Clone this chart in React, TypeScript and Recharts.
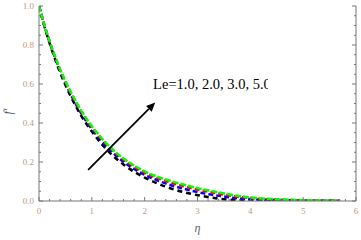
import { LineChart, Line, XAxis, YAxis, ReferenceLine, ReferenceDot, Label } from 'recharts'

const eta = [0, 0.1, 0.2, 0.3, 0.4, 0.5, 0.6, 0.7, 0.8, 0.9, 1.0, 1.2, 1.4, 1.6, 1.8, 2.0, 2.25, 2.5, 2.75, 3.0, 3.25, 3.5, 3.75, 4.0, 4.5, 5.0, 5.5, 5.7]
const le1 = [1.0, 0.898, 0.81, 0.731, 0.658, 0.595, 0.537, 0.485, 0.437, 0.395, 0.356, 0.288, 0.232, 0.187, 0.150, 0.120, 0.089, 0.064, 0.045, 0.030, 0.018, 0.009, 0.004, 0.002, 0.001, 0, 0, 0]
const le2 = [1.0, 0.901, 0.815, 0.737, 0.666, 0.604, 0.547, 0.496, 0.449, 0.407, 0.369, 0.302, 0.246, 0.201, 0.164, 0.134, 0.105, 0.081, 0.062, 0.046, 0.033, 0.023, 0.014, 0.009, 0.005, 0.002, 0.001, 0.0005]
const le3 = [1.0, 0.904, 0.818, 0.742, 0.672, 0.611, 0.555, 0.505, 0.458, 0.417, 0.378, 0.312, 0.257, 0.212, 0.176, 0.146, 0.117, 0.094, 0.075, 0.059, 0.045, 0.033, 0.022, 0.015, 0.007, 0.003, 0.0016, 0.0008]
const le5 = [1.0, 0.905, 0.82, 0.745, 0.675, 0.615, 0.56, 0.51, 0.463, 0.422, 0.384, 0.318, 0.263, 0.218, 0.182, 0.152, 0.124, 0.102, 0.083, 0.066, 0.052, 0.039, 0.027, 0.018, 0.009, 0.004, 0.002, 0.001]

const xMajor = [0, 1, 2, 3, 4, 5, 6]
const yMajor = [0, 0.2, 0.4, 0.6, 0.8, 1.0]
const xTicks = Array.from({ length: 31 }, (_, i) => i / 5)
const yTicks = Array.from({ length: 21 }, (_, i) => i / 20)

const arrowFrom = { eta: 0.93, f: 0.16 }
const arrowTo = { eta: 2.2, f: 0.505 }
const legendAt = { eta: 2.16, f: 0.574 }
const legendText = 'Le=1.0, 2.0, 3.0, 5.0'

const data = eta.map((e, i) => ({ eta: e, le1: le1[i], le2: le2[i], le3: le3[i], le5: le5[i] }))

const FRAME = '#777'
const TICK_TEXT = '#c09c80'

const isMajor = (v: number, list: number[]) => list.some(m => Math.abs(m - v) < 1e-6)

function BottomTick({ x, y, payload }: any) {
  const major = isMajor(payload.value, xMajor)
  return (
    <g>
      <line x1={x} x2={x} y1={y} y2={y - (major ? 4 : 2)} stroke={FRAME} />
      {major && (
        <text x={x} y={y + 13} textAnchor="middle" fontSize={9} fill={TICK_TEXT} fontFamily="Liberation Serif">
          {payload.value}
        </text>
      )}
    </g>
  )
}

function TopTick({ x, y, payload }: any) {
  const major = isMajor(payload.value, xMajor)
  return <line x1={x} x2={x} y1={y} y2={y + (major ? 4 : 2)} stroke={FRAME} />
}

function LeftTick({ x, y, payload }: any) {
  const major = isMajor(payload.value, yMajor)
  return (
    <g>
      <line x1={x} x2={x + (major ? 4 : 2)} y1={y} y2={y} stroke={FRAME} />
      {major && (
        <text x={x - 5} y={y + 3} textAnchor="end" fontSize={9} fill={TICK_TEXT} fontFamily="Liberation Serif">
          {payload.value.toFixed(1)}
        </text>
      )}
    </g>
  )
}

function RightTick({ x, y, payload }: any) {
  const major = isMajor(payload.value, yMajor)
  return <line x1={x} x2={x - (major ? 4 : 2)} y1={y} y2={y} stroke={FRAME} />
}

function Arrow({ x1, y1, x2, y2 }: any) {
  const a = Math.atan2(y2 - y1, x2 - x1)
  const len = 9
  const w = 4
  const bx = x2 - len * Math.cos(a)
  const by = y2 - len * Math.sin(a)
  const px = -Math.sin(a) * w
  const py = Math.cos(a) * w
  return (
    <g>
      <line x1={x1} y1={y1} x2={bx} y2={by} stroke="#000" strokeWidth={1.8} />
      <polygon points={`${x2},${y2} ${bx + px},${by + py} ${bx - px},${by - py}`} fill="#000" />
    </g>
  )
}

function LegendText({ viewBox }: any) {
  const x = viewBox.x + (viewBox.width || 0) / 2
  const y = viewBox.y + (viewBox.height || 0) / 2
  return (
    <g>
      <defs>
        <clipPath id="leclip">
          <rect x={x - 2} y={y - 20} width={117} height={30} />
        </clipPath>
      </defs>
      <text x={x} y={y} fontSize={14.5} fill="#000" fontFamily="Liberation Serif" clipPath="url(#leclip)">
        {legendText}
      </text>
    </g>
  )
}

function YLabel({ viewBox }: any) {
  const cx = viewBox.x + 12
  const cy = viewBox.y + viewBox.height / 2 + 8
  return (
    <text x={cx} y={cy} transform={`rotate(-90 ${cx} ${cy})`} textAnchor="middle" fontSize={12} fontStyle="italic" fill="#4a5878" fontFamily="Liberation Serif">
      f′
    </text>
  )
}

function XLabel({ viewBox }: any) {
  const cx = viewBox.x + viewBox.width / 2
  return (
    <text x={cx} y={viewBox.y + 31} textAnchor="middle" fontSize={12} fontStyle="italic" fill="#666" fontFamily="Liberation Serif">
      η
    </text>
  )
}

export default function App() {
  return (
    <div style={{ position: 'absolute', left: 0, top: 0, width: 361, height: 240, background: '#fff' }}>
      <LineChart width={361} height={240} data={data} margin={{ top: 6, right: 0, bottom: 0, left: 0 }}>
        <XAxis dataKey="eta" type="number" domain={[0, 6]} allowDataOverflow ticks={xTicks} interval={0}
          height={39} tickSize={0} tickMargin={0} tickLine={false} axisLine={{ stroke: FRAME }} tick={<BottomTick />}>
          <Label content={<XLabel />} />
        </XAxis>
        <XAxis xAxisId="top" orientation="top" type="number" domain={[0, 6]} allowDataOverflow ticks={xTicks} interval={0}
          height={0} tickSize={0} tickMargin={0} tickLine={false} axisLine={{ stroke: FRAME }} tick={<TopTick />} />
        <YAxis type="number" domain={[0, 1]} allowDataOverflow ticks={yTicks} interval={0}
          width={39} tickSize={0} tickMargin={0} tickLine={false} axisLine={{ stroke: FRAME }} tick={<LeftTick />}>
          <Label content={<YLabel />} />
        </YAxis>
        <YAxis yAxisId="right" orientation="right" type="number" domain={[0, 1]} allowDataOverflow ticks={yTicks} interval={0}
          width={5} tickSize={0} tickMargin={0} tickLine={false} axisLine={{ stroke: FRAME }} tick={<RightTick />} />
        <Line dataKey="le1" type="monotone" stroke="#000" strokeWidth={2.5} strokeDasharray="5 4" dot={false} isAnimationActive={false} />
        <Line dataKey="le2" type="monotone" stroke="#0000ff" strokeWidth={2.5} strokeDasharray="5 3" dot={false} isAnimationActive={false} />
        <Line dataKey="le3" type="monotone" stroke="#ff0000" strokeWidth={2.5} strokeDasharray="5 3" dot={false} isAnimationActive={false} />
        <Line dataKey="le5" type="monotone" stroke="#00ff00" strokeWidth={2.5} strokeDasharray="6 2" dot={false} isAnimationActive={false} />
        <ReferenceLine segment={[{ x: arrowFrom.eta, y: arrowFrom.f }, { x: arrowTo.eta, y: arrowTo.f }]} shape={<Arrow />} />
        <ReferenceDot x={legendAt.eta} y={legendAt.f} r={0} stroke="none" fill="none" label={<LegendText />} />
      </LineChart>
    </div>
  )
}
